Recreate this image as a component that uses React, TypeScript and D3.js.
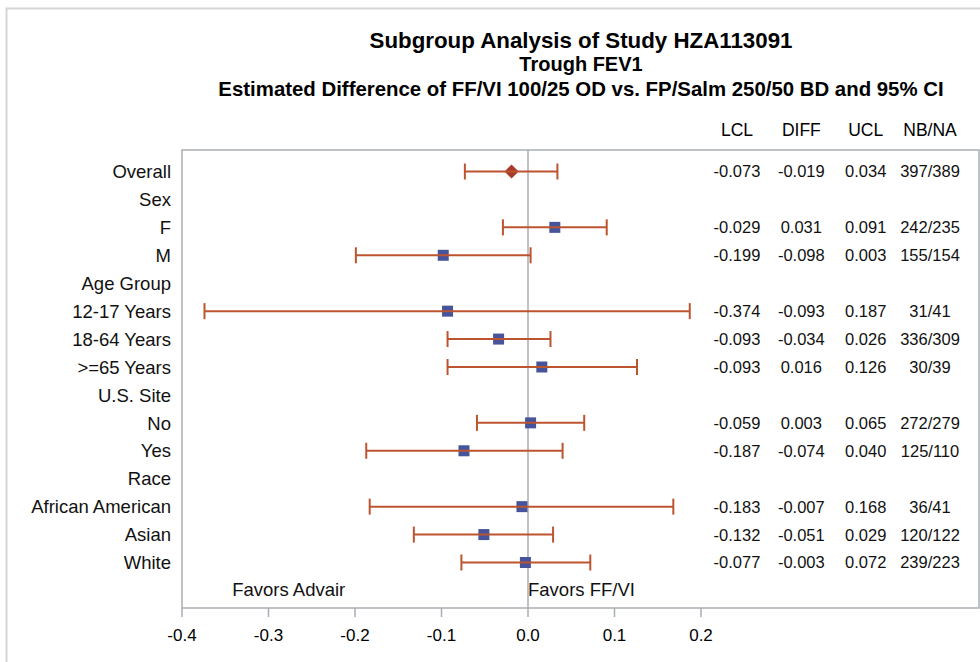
import React, { useRef, useEffect } from 'react';
import * as d3 from 'd3';

// rows of the forest plot, top to bottom (group headers have no estimate)
const rowLabels = [
  'Overall', 'Sex', 'F', 'M', 'Age Group', '12-17 Years', '18-64 Years', '>=65 Years',
  'U.S. Site', 'No', 'Yes', 'Race', 'African American', 'Asian', 'White',
];
const lcl = [-0.073, null, -0.029, -0.199, null, -0.374, -0.093, -0.093, null, -0.059, -0.187, null, -0.183, -0.132, -0.077];
const diff = [-0.019, null, 0.031, -0.098, null, -0.093, -0.034, 0.016, null, 0.003, -0.074, null, -0.007, -0.051, -0.003];
const ucl = [0.034, null, 0.091, 0.003, null, 0.187, 0.026, 0.126, null, 0.065, 0.040, null, 0.168, 0.029, 0.072];
const nbna = ['397/389', '', '242/235', '155/154', '', '31/41', '336/309', '30/39', '', '272/279', '125/110', '', '36/41', '120/122', '239/223'];

const tableColumns = ['LCL', 'DIFF', 'UCL', 'NB/NA'];
const xTicks = [-0.4, -0.3, -0.2, -0.1, 0.0, 0.1, 0.2];

const titleLines = [
  'Subgroup Analysis of Study HZA113091',
  'Trough FEV1',
  'Estimated Difference of FF/VI 100/25 OD vs. FP/Salm 250/50 BD and 95% CI',
];

const FONT = '"Liberation Sans", Arial, sans-serif';

// SAS output uses a plain hyphen for negatives
const loc = d3.formatLocale({ decimal: '.', thousands: ',', grouping: [3], currency: ['', ''], minus: '-' });

export default function App() {
  const ref = useRef<SVGSVGElement>(null);

  useEffect(() => {
    document.body.style.margin = '0';
    const svg = d3.select(ref.current);
    svg.selectAll('*').remove();

    const width = 980, height = 662;
    const frame = { left: 182, right: 979, top: 150, bottom: 608 };

    svg.append('rect').attr('width', width).attr('height', height).attr('fill', '#fff');
    // outer light border
    svg.append('rect')
      .attr('x', 6.5).attr('y', 8.5).attr('width', 1000).attr('height', 700)
      .attr('fill', 'none').attr('stroke', '#d6d6d6').attr('stroke-width', 2);

    const x = d3.scaleLinear().domain([-0.4, 0.2]).range([frame.left, 701]);
    const y = d3.scalePoint<string>().domain(rowLabels).range([171.5, 562.5]);
    const colX = d3.scalePoint<string>().domain(tableColumns).range([737, 930]);
    const fmt = loc.format('.3f');

    // titles
    const titleSizes = [22.3, 20, 20.4];
    const titleBase = [48, 71, 96];
    titleLines.forEach((t, i) => {
      svg.append('text')
        .attr('x', 581).attr('y', titleBase[i])
        .attr('text-anchor', 'middle')
        .attr('font-family', FONT).attr('font-weight', 'bold')
        .attr('font-size', titleSizes[i])
        .text(t);
    });

    // column headers
    svg.selectAll('.colhead')
      .data(tableColumns)
      .enter()
      .append('text')
      .attr('x', d => colX(d)!)
      .attr('y', 136)
      .attr('text-anchor', 'middle')
      .attr('font-family', FONT).attr('font-size', 17.5)
      .text(d => d);

    // plot frame
    svg.append('rect')
      .attr('x', frame.left).attr('y', frame.top)
      .attr('width', frame.right - frame.left).attr('height', frame.bottom - frame.top)
      .attr('fill', '#fff').attr('stroke', '#a9aeb3').attr('stroke-width', 1.5);

    // reference line at 0
    svg.append('line')
      .attr('x1', x(0)).attr('x2', x(0))
      .attr('y1', frame.top).attr('y2', frame.bottom)
      .attr('stroke', '#a9aeb3').attr('stroke-width', 1.5);

    // ticks
    const tg = svg.append('g');
    tg.selectAll('line')
      .data(xTicks)
      .enter()
      .append('line')
      .attr('x1', d => x(d)).attr('x2', d => x(d))
      .attr('y1', frame.bottom).attr('y2', frame.bottom + 9)
      .attr('stroke', '#a9aeb3').attr('stroke-width', 1.5);
    tg.selectAll('text')
      .data(xTicks)
      .enter()
      .append('text')
      .attr('x', d => x(d)).attr('y', 641)
      .attr('text-anchor', 'middle')
      .attr('font-family', FONT).attr('font-size', 17)
      .text(d => loc.format('.1f')(d));

    // row labels
    svg.selectAll('.rowlab')
      .data(rowLabels)
      .enter()
      .append('text')
      .attr('x', 171)
      .attr('y', d => y(d)!)
      .attr('dy', '0.36em')
      .attr('text-anchor', 'end')
      .attr('font-family', FONT).attr('font-size', 18.5)
      .attr('fill', '#111')
      .text(d => d);

    const rows = rowLabels
      .map((label, i) => ({ label, lo: lcl[i], est: diff[i], hi: ucl[i], n: nbna[i], i }))
      .filter(r => r.est !== null);

    // markers
    rows.forEach(r => {
      const overall = r.i === 0;
      svg.append('path')
        .attr('d', d3.symbol(d3.symbolSquare, overall ? 100 : 121)()!)
        .attr('transform', `translate(${x(r.est!)},${y(r.label)})${overall ? ' rotate(45)' : ''}`)
        .attr('fill', overall ? '#a83a2a' : '#45549b');
    });

    // error bars over markers
    const barColor = '#bd5430';
    const eg = svg.append('g').attr('stroke', barColor).attr('stroke-width', 2).attr('fill', 'none');
    rows.forEach(r => {
      const yy = y(r.label)!;
      eg.append('line').attr('x1', x(r.lo!)).attr('x2', x(r.hi!)).attr('y1', yy).attr('y2', yy);
      [r.lo!, r.hi!].forEach(v => {
        eg.append('line').attr('x1', x(v)).attr('x2', x(v)).attr('y1', yy - 8).attr('y2', yy + 8);
      });
    });

    // table values
    rows.forEach(r => {
      const vals = [fmt(r.lo!), fmt(r.est!), fmt(r.hi!), r.n];
      tableColumns.forEach((c, j) => {
        svg.append('text')
          .attr('x', colX(c)!).attr('y', y(r.label)!)
          .attr('dy', '0.36em')
          .attr('text-anchor', 'middle')
          .attr('font-family', FONT).attr('font-size', 16.5)
          .attr('fill', '#111')
          .text(vals[j]);
      });
    });

    // favors annotations
    const favY = y(rowLabels[rowLabels.length - 1])! + y.step();
    svg.append('text')
      .attr('x', x(-0.342)).attr('y', favY).attr('dy', '0.3em')
      .attr('font-family', FONT).attr('font-size', 18.5).attr('fill', '#111')
      .text('Favors Advair');
    svg.append('text')
      .attr('x', x(0)).attr('y', favY).attr('dy', '0.3em')
      .attr('font-family', FONT).attr('font-size', 18.5).attr('fill', '#111')
      .text('Favors FF/VI');
  }, []);

  return <svg ref={ref} width={980} height={662} style={{ display: 'block' }} />;
}
